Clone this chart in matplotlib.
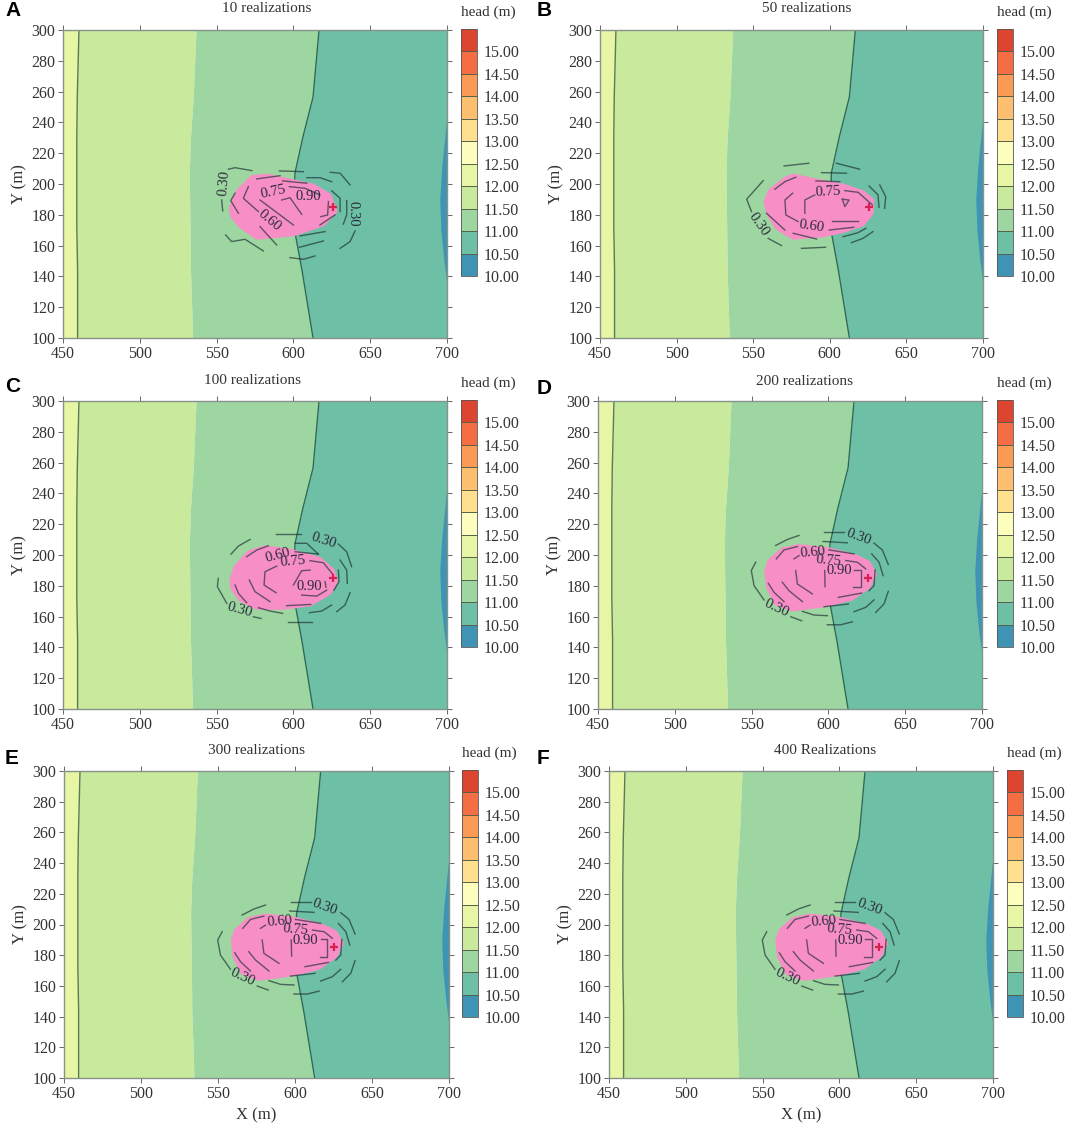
import matplotlib
matplotlib.use("Agg")
import matplotlib.pyplot as plt
from matplotlib.cm import ScalarMappable
from matplotlib.colors import BoundaryNorm, ListedColormap

plt.rcParams['font.family'] = ['Liberation Serif', 'DejaVu Serif']

W, H = 1065, 1130

# head levels and colours of the colour bar
levels = [10.0, 10.5, 11.0, 11.5, 12.0, 12.5, 13.0, 13.5, 14.0, 14.5, 15.0, 15.5]
level_colors = ['#3f93b5', '#6dc0a5', '#9dd6a0', '#c9e99c', '#e6f6a4', '#fdfdbd',
                '#fee08f', '#fdbf6f', '#fb9a55', '#f46d43', '#dc4630']
cbar_ticks = [10, 10.5, 11, 11.5, 12, 12.5, 13, 13.5, 14, 14.5, 15]

# head contours, x position along y
bound_y = [100, 144, 172, 207, 230.5, 256.5, 300]
bound_12 = [459.5, 459.5, 459, 459, 459, 459.3, 460.4]
bound_115 = [534.4, 533, 532.7, 532.2, 533, 534.8, 536.6]
bound_11 = [612.8, 605.6, 600.4, 601, 606.2, 612.8, 616.7]
lens_y = [135, 150, 170, 190, 210, 230, 245]
lens_x = [700, 698, 696, 695.3, 696.5, 698.5, 700]

# probability zone per panel
pink_a = [(558.8, 184.2), (563.1, 195.0), (572.9, 204.8), (582.6, 205.9), (597.8, 202.6),
          (613, 199.4), (623.9, 192.9), (627.8, 182.1), (619.5, 173.4), (600, 166.9),
          (576.1, 164.7), (565.3, 172.3), (559.8, 178.8)]
pink_b = [(557.6, 188.6), (560.9, 196.1), (570.7, 203.7), (576.1, 205.9), (591.3, 202.6),
          (608.7, 199.4), (621.7, 195), (628.2, 189.6), (627.8, 181), (621.7, 173.4),
          (608.7, 169.1), (595.6, 166.3), (576.1, 164.7), (565.2, 171.2), (559.8, 179.9)]
pink_c = [(559.2, 183.7), (562, 192.4), (570.7, 202.1), (581.5, 205.4), (597.8, 203.2),
          (617.3, 197.8), (626, 190.2), (628.2, 182.7), (623.8, 175.1), (610.8, 167.5),
          (593.5, 165.3), (576.1, 165.3), (565.3, 170.7), (559.8, 178.3)]
pink_f = [(559.2, 189.9), (561.4, 196.4), (570, 204), (580.9, 206.2), (600.4, 204),
          (617.8, 199.6), (626.5, 195.3), (630.8, 187.7), (626.5, 179), (615.6, 171.4),
          (598.2, 167.1), (576.5, 164.2), (565.7, 168.2), (560.3, 179)]

# broken probability contours per panel
lines_a = [
    [(557.7, 209.6), (562, 210.6), (572.9, 208.7)],
    [(590.9, 208.5), (606.5, 208)],
    [(608.7, 204.1), (617.3, 204.1), (624.9, 201.5)],
    [(623.9, 207.6), (630.4, 207), (636.9, 199.4)],
    [(634.7, 189.2), (634.7, 179.9), (632.5, 174)],
    [(640.1, 169.5), (636.9, 162.6), (630.4, 158.2)],
    [(597.8, 152.2), (606.5, 151.1), (614.1, 153.3)],
    [(603.9, 158.9), (619.5, 163)],
    [(604.3, 166.3), (620.6, 169.1)],
    [(555.9, 166.9), (559.8, 162.6), (568.5, 164.1), (580.5, 156.5)],
    [(553.3, 189.6), (554, 182.5)],
    [(562, 194), (559.2, 189.2), (564.2, 181)],
    [(576.1, 203.3), (591.3, 205.4)],
    [(593, 202), (608.7, 200.5)],
    [(570.7, 198.3), (567.4, 190.7), (577.2, 182.1)],
    [(578.3, 189.6), (600, 173.4)],
    [(592.4, 189.6), (597.8, 191.1), (605.4, 180.3)],
    [(597.4, 198.3), (607.6, 197.2), (617.3, 192.9)],
    [(625, 195.5), (630.4, 190.7), (630.4, 182.1)],
    [(622.8, 188.6), (622.3, 179.9), (617.8, 178.8)],
    [(617.3, 173.4), (627.1, 179.9)],
    [(578.3, 172.3), (589.1, 160.4)],
]
lines_b = [
    [(556.5, 202.2), (551.1, 196.1), (545.7, 190.1), (548.9, 182.1)],
    [(559.8, 164.7), (568.5, 160)],
    [(570.2, 211.7), (586.3, 213.5)],
    [(581.5, 158.2), (597.2, 158.9)],
    [(594.6, 207.4), (610.9, 207)],
    [(604.3, 213.5), (619.5, 209.6)],
    [(625.6, 198.7), (631.5, 192.9), (632.1, 184.9)],
    [(632.6, 199.4), (636.5, 191.8), (635.8, 184.2)],
    [(608.7, 165.8), (618.5, 168.4), (623.5, 171.2)],
    [(614.1, 161.9), (621.7, 164.7), (628.2, 169.1)],
    [(564.1, 196.6), (570.7, 201.5), (577.8, 204.4)],
    [(590.9, 202), (606.5, 201.5)],
    [(575.7, 194), (570.7, 189.6), (571.3, 179.9), (579.3, 175.6)],
    [(583.7, 181), (583.7, 189.6), (590.2, 192.9)],
    [(609.8, 195.7), (618.5, 194.6), (627.8, 186.4)],
    [(558.7, 181), (570.7, 170.1)],
    [(576.1, 168), (591.3, 164.3)],
    [(599.6, 170.1), (615.6, 171.9)],
    [(601.7, 176.2), (618.5, 176.2)],
    [(608.2, 190.1), (612.6, 189.6), (609.8, 185.3), (608.2, 190.1)],
]
lines_c = [
    [(559.4, 200.6), (564.2, 205.8), (571.8, 210.1)],
    [(588.7, 213.6), (605, 213.6)],
    [(601.1, 207.6), (608.7, 207.6), (616.2, 200.6)],
    [(629.3, 207.1), (634.7, 202.1), (637.9, 192.4)],
    [(630.4, 196.7), (634.7, 190.2), (635.1, 181.6)],
    [(636.9, 175.5), (633.6, 167.5), (628.2, 163.2)],
    [(624.9, 167.5), (618.4, 163.6), (610.4, 162.5)],
    [(596.3, 156.2), (611.9, 156.2)],
    [(577.2, 165.8), (584.8, 163.6), (593, 162.1)],
    [(573.9, 159.9), (578.9, 158.8)],
    [(551.1, 184.8), (550.5, 179.4), (556.6, 168.6)],
    [(569.6, 198.9), (576.1, 203.2), (583.7, 206)],
    [(601.1, 202.1), (616.2, 200.6)],
    [(589.1, 192.8), (581.5, 189.1), (580.9, 180.5), (588.7, 175.5)],
    [(610.8, 196.3), (619.5, 195), (626, 187)],
    [(571.3, 183.7), (575, 176.2), (584.8, 169.7)],
    [(562, 180.5), (564.2, 175.1), (569.6, 169)],
    [(610.8, 190.2), (605.4, 189.8), (600, 180.5)],
    [(629.3, 190.2), (629.7, 182.7), (626.4, 177.2)],
    [(605.4, 174), (615.2, 173.3), (621.7, 177.2)],
    [(595.6, 167.1), (611.3, 167.9)],
    [(620.6, 182.7), (621.2, 179)],
]
lines_f = [
    [(565.7, 206.2), (573.3, 210.1), (580.9, 212.7)],
    [(597.2, 214.9), (610.2, 214.9)],
    [(596.5, 208.8), (612.3, 207.9)],
    [(629.7, 207.7), (635.1, 203.3), (639, 193.8)],
    [(628.2, 200.7), (633, 195.3), (635.6, 186.6)],
    [(639, 176.4), (636.2, 168.2), (630.8, 162.7)],
    [(629.7, 170.8), (624.3, 166), (616.7, 163.2)],
    [(599.3, 154.7), (608, 154.7), (615.6, 156.6)],
    [(583.1, 163.4), (590.6, 161), (599.3, 160.6)],
    [(575.5, 159.9), (582.6, 157.3)],
    [(552.7, 195.3), (549.8, 189.9), (551.6, 180.1), (558.1, 170.8)],
    [(566.1, 197.5), (571.1, 203.3), (579.8, 205.5)],
    [(600.4, 203.3), (616.7, 200.7)],
    [(577.6, 197.5), (580.9, 199.6)],
    [(611.3, 196.4), (618.9, 195.3), (624.3, 191)],
    [(578.7, 189.9), (579.8, 181.2), (589.6, 174.7)],
    [(570, 182.3), (574.4, 176.8), (583.1, 169.7)],
    [(560.9, 181.6), (564.6, 175.8), (571.1, 169.7)],
    [(597.6, 189.9), (597.8, 179.4)],
    [(616.7, 190.3), (621, 190.3), (621, 179), (616.3, 179)],
    [(606.5, 172.5), (621.7, 175.3)],
    [(597.2, 166.4), (613, 168.2)],
    [(630.4, 190.3), (629.7, 180.1), (626.5, 176.8)],
]

# contour labels: text, x, y, rotation
labels_a = [('0.30', 554.8, 200.5, 85), ('0.30', 639, 180.5, -90), ('0.75', 587, 194.6, 12),
            ('0.90', 609.7, 191.8, 0), ('0.60', 584.4, 176.2, -40)]
labels_b = [('0.30', 553.3, 173.4, -55), ('0.75', 598.9, 194.6, 3), ('0.60', 588, 172.3, -8)]
labels_c = [('0.30', 619.5, 209.3, -18), ('0.30', 565.3, 164.2, -15), ('0.60', 589.6, 200, 15),
            ('0.75', 599.5, 195.6, 5), ('0.90', 610.4, 179.4, 0)]
labels_f = [('0.30', 619.5, 211.6, -20), ('0.30', 566.1, 165.5, -25), ('0.60', 590, 201.8, 5),
            ('0.75', 600.4, 196.4, -5), ('0.90', 606.9, 189.9, 0)]

well_x = [625.5]
well_y = [185.2]

titles = ['10 realizations', '50 realizations', '100 realizations',
          '200 realizations', '300 realizations', '400 Realizations']
letters = ['A', 'B', 'C', 'D', 'E', 'F']
pinks = [pink_a, pink_b, pink_c, pink_f, pink_f, pink_f]
lines = [lines_a, lines_b, lines_c, lines_f, lines_f, lines_f]
labels = [labels_a, labels_b, labels_c, labels_f, labels_f, labels_f]

# pixel layout: axes left, right, top, bottom, colour bar left, title x, title y, letter x, letter y
layout = [
    (63, 447, 30, 338, 461, 267, 8, 5, 11),
    (600, 983, 30, 338, 997, 807, 8, 537, 11),
    (63, 447, 401, 709, 461, 253, 380, 5, 386),
    (598, 982, 401, 709, 997, 804, 381, 537, 388),
    (64, 449, 771, 1078, 462, 257, 750, 5, 758),
    (609, 993, 771, 1078, 1007, 825, 750, 537, 758),
]

fig = plt.figure(figsize=(W / 100, H / 100), dpi=100)
cmap = ListedColormap(level_colors)
norm = BoundaryNorm(levels, cmap.N)
txt = '#333333'
line_c = '#1a2a30'

for i in range(6):
    l, r, t, b, cl, tx, ty, lx, ly = layout[i]
    ax = fig.add_axes([l / W, 1 - b / H, (r - l) / W, (b - t) / H])
    ax.set_xlim(450, 700)
    ax.set_ylim(100, 300)

    ax.fill_betweenx(bound_y, 450, bound_12, color=level_colors[4], lw=0)
    ax.fill_betweenx(bound_y, bound_12, bound_115, color=level_colors[3], lw=0)
    ax.fill_betweenx(bound_y, bound_115, bound_11, color=level_colors[2], lw=0)
    ax.fill_betweenx(bound_y, bound_11, 700, color=level_colors[1], lw=0)
    ax.fill_betweenx(lens_y, lens_x, 700, color=level_colors[0], lw=0)
    ax.plot(bound_12, bound_y, color='#5a7a55', lw=1.0)
    ax.plot(bound_11, bound_y, color='#2f6a58', lw=1.0)

    ax.fill([p[0] for p in pinks[i]], [p[1] for p in pinks[i]], facecolor='#f78fc6',
            edgecolor='#f78fc6', lw=2, joinstyle='round', zorder=3)
    for seg in lines[i]:
        ax.plot([p[0] for p in seg], [p[1] for p in seg], color=line_c, alpha=0.65, lw=1.0, zorder=4)
    for s, x, y, rot in labels[i]:
        ax.text(x, y, s, fontsize=10.5, color='#2a2a3a', rotation=rot, ha='center', va='center',
                rotation_mode='anchor', zorder=5)
    ax.plot(well_x, well_y, '+', color='#d8204f', ms=6, mew=1.6, zorder=6)

    ax.set_xticks([450, 500, 550, 600, 650, 700])
    ax.set_yticks(range(100, 301, 20))
    ax.tick_params(direction='out', length=3.5, width=0.7, color='#666666', labelcolor=txt,
                   labelsize=11.5, top=True, right=True, pad=2)
    for sp in ax.spines.values():
        sp.set_color('#85938a')
        sp.set_linewidth(1.0)
    ax.set_ylabel('Y (m)', fontsize=12, color=txt, labelpad=3)
    if i >= 4:
        ax.set_xlabel('X (m)', fontsize=12, color=txt, labelpad=4)

    cax = fig.add_axes([cl / W, 1 - (t + 246) / H, 16 / W, 247 / H])
    cb = fig.colorbar(ScalarMappable(norm=norm, cmap=cmap), cax=cax, ticks=cbar_ticks,
                      spacing='proportional', drawedges=True)
    cb.ax.set_yticklabels(['%.2f' % v for v in cbar_ticks])
    cb.ax.tick_params(length=0, labelsize=11.5, labelcolor=txt, pad=5)
    cb.ax.minorticks_off()
    cb.outline.set_edgecolor('#555555')
    cb.outline.set_linewidth(0.6)
    cb.dividers.set_color('#55604a')
    cb.dividers.set_linewidth(0.7)

    fig.text((cl + 27) / W, 1 - (t - 18) / H, 'head (m)', fontsize=11, color=txt, ha='center', va='center')
    fig.text(tx / W, 1 - ty / H, titles[i], fontsize=11, color=txt, ha='center', va='center')
    fig.text(lx / W, 1 - ly / H, letters[i], fontsize=15, fontweight='bold', family='Liberation Sans',
             color='black', ha='left', va='center')

fig.savefig('out.png', dpi=100)
